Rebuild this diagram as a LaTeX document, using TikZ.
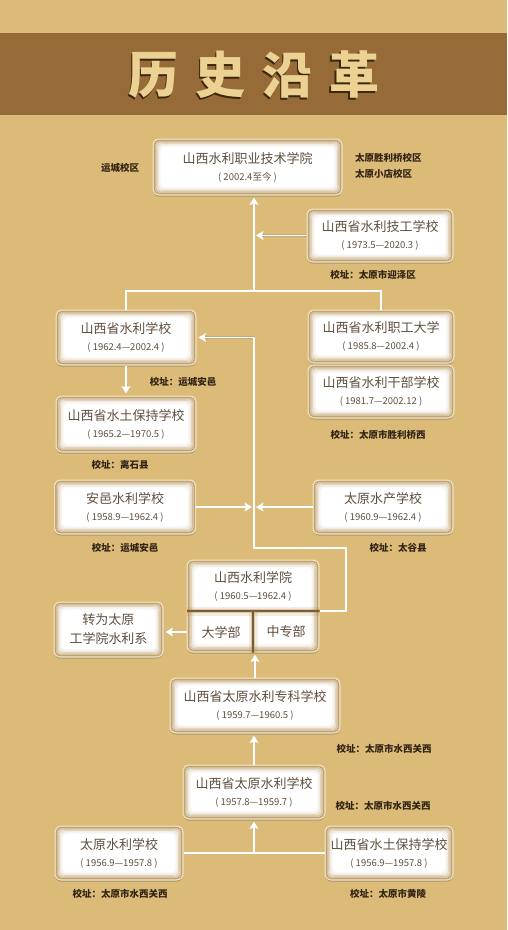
\documentclass[tikz,border=0pt]{standalone}
\usepackage{fontspec}
\setmainfont{Noto Sans CJK SC}
\usepackage{tikz}
\usetikzlibrary{positioning,arrows.meta,calc,shadows}
\definecolor{bggold}{RGB}{220,187,121}
\definecolor{band}{RGB}{151,107,55}
\definecolor{glow}{RGB}{176,134,70}
\definecolor{rim}{RGB}{238,222,186}
\definecolor{boxtxt}{RGB}{95,80,64}
\definecolor{addrtxt}{RGB}{50,36,20}
\definecolor{ttlgold}{RGB}{236,210,146}
\definecolor{ttlshade}{RGB}{60,38,14}
\newcommand{\yr}[1]{\\[0pt]{\fontsize{9.5}{12}\selectfont ( #1 )}}
\newcommand{\ttltext}{历\hspace{17pt}史\hspace{17pt}沿\hspace{17pt}革}
\tikzset{
  sch/.style={fill=white,draw=rim,line width=1pt,rounded corners=6pt,align=center,
    minimum height=54pt,text=boxtxt,font=\fontsize{13}{17}\selectfont,inner sep=2pt,
    drop shadow={opacity=0.35,shadow xshift=0pt,shadow yshift=-1.5pt,fill=black!70},
    path picture={
      \foreach \d/\o in {1.2/0.75,2.6/0.5,4/0.3,5.4/0.16,6.8/0.07}
        \draw[glow,line width=1.6pt,opacity=\o,rounded corners=5pt]
          ($(path picture bounding box.north west)+(\d pt,-\d pt)$) rectangle
          ($(path picture bounding box.south east)+(-\d pt,\d pt)$);
    }},
  boxtext/.style={text=boxtxt,align=center,font=\fontsize{13}{17}\selectfont,inner sep=1pt},
  addr/.style={text=addrtxt,font=\bfseries\fontsize{9.5}{16}\selectfont,inner sep=1pt},
  ttl/.style={text=ttlgold,font=\bfseries\fontsize{50}{50}\selectfont,inner sep=0pt},
  ln/.style={draw=white,line width=1.6pt,preaction={draw=black!50,line width=2.6pt,opacity=0.3}},
  arr/.style={ln,-{Stealth[length=7.5pt,width=9pt,inset=1.5pt]},shorten >=2pt},
  divl/.style={draw=glow!70!black,line width=1.2pt,
    preaction={draw=glow,line width=9pt,opacity=0.15},
    preaction={draw=glow,line width=4.5pt,opacity=0.35}},
}
\begin{document}
\begin{tikzpicture}[x=1pt,y=-1pt]
  % background and title band
  \fill[bggold] (0,0) rectangle (507,930);
  \useasboundingbox (0,0) rectangle (507,930);
  \fill[band] (0,33) rectangle (507,115);
  \node[ttl,text=ttlshade] (ttlsh) at (252.5,76.5) {\ttltext};
  \node[ttl] (ttl) at (254,75) {\ttltext};

  % schools
  \node[sch,minimum width=189pt,minimum height=56pt] (zy) at (247.5,167) {山西水利职业技术学院\yr{2002.4至今}};
  \node[sch,minimum width=146pt,minimum height=53pt] (jg) at (380,235.5) {山西省水利技工学校\yr{1973.5—2020.3}};
  \node[sch,minimum width=140pt,minimum height=55pt] (slxx) at (126,337.5) {山西省水利学校\yr{1962.4—2002.4}};
  \node[sch,minimum width=140pt,minimum height=56pt,below=30pt of slxx] (stbca) {山西省水土保持学校\yr{1965.2—1970.5}};
  \node[sch,minimum width=146pt,minimum height=53pt] (zgdx) at (381,336.5) {山西省水利职工大学\yr{1985.8—2002.4}};
  \node[sch,minimum width=146pt,minimum height=53pt,below=1pt of zgdx] (gbxx) {山西省水利干部学校\yr{1981.7—2002.12}};
  \node[sch,minimum width=141pt,minimum height=54pt] (ayxx) at (125,507) {安邑水利学校\yr{1958.9—1962.4}};
  \node[sch,minimum width=140pt,minimum height=54pt] (tysc) at (383,507) {太原水产学校\yr{1960.9—1962.4}};
  \node[sch,minimum width=132pt,minimum height=92pt] (slxy) at (253,606) {};
  \coordinate (dvd) at (253,611);
  \begin{scope}
    \clip[rounded corners=6pt] (slxy.north west) rectangle (slxy.south east);
    \draw[divl] (slxy.west |- dvd) -- (slxy.east |- dvd);
    \draw[divl] (dvd) -- (dvd |- slxy.south);
  \end{scope}
  \node[boxtext] (slxyt) at (253,586) {山西水利学院\yr{1960.5—1962.4}};
  \node[boxtext] (dxb) at (221,632) {大学部};
  \node[boxtext] (zzb) at (286,632) {中专部};
  \node[sch,minimum width=109pt,minimum height=55pt] (zwty) at (108.5,629.5) {转为太原\\[2pt]工学院水利系};
  \node[sch,minimum width=170pt,minimum height=55pt] (zkxx) at (255,705.5) {山西省太原水利专科学校\yr{1959.7—1960.5}};
  \node[sch,minimum width=142pt,minimum height=54pt] (tyslxx) at (254,792) {山西省太原水利学校\yr{1957.8—1959.7}};
  \node[sch,minimum width=128pt,minimum height=54pt] (tysl) at (119,853) {太原水利学校\yr{1956.9—1957.8}};
  \node[sch,minimum width=128pt,minimum height=54pt] (stbcb) at (389,853) {山西省水土保持学校\yr{1956.9—1957.8}};

  % campuses and addresses
  \node[addr] (ycxq) at (120,168) {运城校区};
  \node[addr,anchor=west,align=left] (tyxq) at (354,166) {太原胜利桥校区\\太原小店校区};
  \node[addr] (jgdz) at (373,275) {校址：太原市迎泽区};
  \node[addr] (slxxdz) at (183,382) {校址：运城安邑};
  \node[addr] (stbcadz) at (120,465) {校址：离石县};
  \node[addr] (gbxxdz) at (378,435) {校址：太原市胜利桥西};
  \node[addr] (ayxxdz) at (125,548) {校址：运城安邑};
  \node[addr] (tyscdz) at (398,548) {校址：太谷县};
  \node[addr] (zkxxdz) at (384,749) {校址：太原市水西关西};
  \node[addr] (tyslxxdz) at (383,806) {校址：太原市水西关西};
  \node[addr] (tysldz) at (120,894) {校址：太原市水西关西};
  \node[addr] (stbcbdz) at (388,894) {校址：太原市黄陵};

  % connectors
  \coordinate (fork) at (254,291);
  \coordinate (tr) at (254,548);
  \coordinate (rt) at (346,548);
  \draw[arr] (fork) -- (fork |- zy.south);
  \draw[arr] (jg.west) -- (jg.west -| fork);
  \draw[ln] (slxx.north) |- (fork) -| (zgdx.north);
  \draw[arr] (slxx) -- (stbca);
  \draw[arr] (slxy.east |- dvd) -| (rt) -- (tr) |- (slxx.east);
  \draw[arr] (ayxx.east) -- (ayxx.east -| tr);
  \draw[arr] (tysc.west) -- (tysc.west -| tr);
  \draw[arr] (slxy.west |- dxb) -- (zwty.east |- dxb);
  \draw[arr] (zkxx.north) -- (zkxx.north |- slxy.south);
  \draw[arr] (tyslxx.north) -- (tyslxx.north |- zkxx.south);
  \draw[ln] (tysl.east) -- (stbcb.west);
  \draw[arr] (tyslxx.south |- tysl.east) -- (tyslxx.south);
\end{tikzpicture}
\end{document}
